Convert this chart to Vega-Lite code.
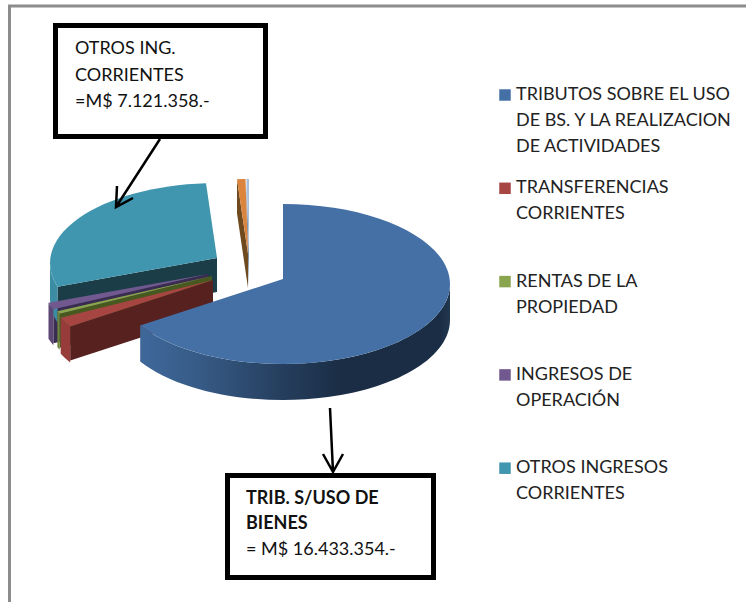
{
"$schema":"https://vega.github.io/schema/vega-lite/v6.json",
"width":746,"height":602,"padding":0,
"autosize":{"type":"fit","contains":"padding"},
"background":"#ffffff",
"config":{"view":{"stroke":null},"style":{"guide-label":{"lineHeight":26}}},
"data":{"values":[
{"slice":"TRIBUTOS SOBRE EL USO DE BS. Y LA REALIZACION DE ACTIVIDADES","value":16433354},
{"slice":"TRANSFERENCIAS CORRIENTES","value":480000},
{"slice":"RENTAS DE LA PROPIEDAD","value":140000},
{"slice":"INGRESOS DE OPERACIÓN","value":340000},
{"slice":"OTROS INGRESOS CORRIENTES","value":7121358},
{"slice":"SIN RÓTULO 1","value":200000},
{"slice":"SIN RÓTULO 2","value":60000}
]},
"transform":[
{"window":[{"op":"row_number","as":"idx"}]},
{"stack":"value","groupby":[],"as":["v0","v1"]},
{"joinaggregate":[{"op":"sum","field":"value","as":"total"}]},
{"calculate":"2*PI*datum.v0/datum.total","as":"a0"},
{"calculate":"2*PI*datum.v1/datum.total","as":"a1"},
{"calculate":"[0,-70,-71,-75,-66,-35,-34][datum.idx-1]","as":"cx"},
{"calculate":"[0,1,-3,-5,-21,-25,-25][datum.idx-1]","as":"cy"},
{"calculate":"datum.cy-5","as":"ay"},
{"calculate":"round(10*(datum.cx+167*sin(datum.a0)))/10","as":"x0"},
{"calculate":"round(10*(datum.cy-80*cos(datum.a0)))/10","as":"y0"},
{"calculate":"round(10*(datum.cx+167*sin(datum.a1)))/10","as":"x1"},
{"calculate":"round(10*(datum.cy-80*cos(datum.a1)))/10","as":"y1"},
{"calculate":"max(datum.a0,PI/2)","as":"rs"},
{"calculate":"min(datum.a1,3*PI/2)","as":"re"},
{"calculate":"round(10*(datum.cx+167*sin(datum.rs)))/10","as":"xs"},
{"calculate":"round(10*(datum.cy-80*cos(datum.rs)))/10","as":"ys"},
{"calculate":"round(10*(datum.cx+167*sin(datum.re)))/10","as":"xe"},
{"calculate":"round(10*(datum.cy-80*cos(datum.re)))/10","as":"ye"},
{"calculate":"'M'+datum.cx+','+datum.ay+'L'+datum.x0+','+datum.y0+'A167,80,0,'+((datum.a1-datum.a0)>PI?1:0)+',1,'+datum.x1+','+datum.y1+'Z'","as":"top"},
{"calculate":"datum.rs<datum.re?'M'+datum.xs+','+datum.ys+'A167,80,0,0,1,'+datum.xe+','+datum.ye+'L'+datum.xe+','+(datum.ye+36)+'A167,80,0,0,0,'+datum.xs+','+(datum.ys+36)+'Z':'M0,0'","as":"rim"},
{"calculate":"datum.a0>PI?'M'+datum.cx+','+datum.ay+'L'+datum.x0+','+datum.y0+'L'+datum.x0+','+(datum.y0+34)+'L'+datum.cx+','+(datum.ay+34)+'Z':'M0,0'","as":"wall"},
{"calculate":"['#1a2d45','#56211f','#47591f','#3a2b50','#1b3d48','#6e4a1e','#7f93ad'][datum.idx-1]","as":"wallColor"},
{"calculate":"['#2a4565','#973c3a','#6c843c','#5c4775','#3c8ca3','#a8662f','#9fb3cc'][datum.idx-1]","as":"rimColor"}
],
"layer":[
{"data":{"values":[{}]},"mark":{"type":"point","x":0,"y":0,"size":4,"filled":false,"opacity":1,"stroke":"#8c8c8c","strokeWidth":3,"shape":"M9.5,602L9.5,4L746,4"},"encoding":{}},
{"mark":{"type":"point","x":283,"y":282,"size":4,"filled":true,"opacity":1},
 "encoding":{"shape":{"field":"wall","type":"nominal","scale":null},"color":{"field":"wallColor","type":"nominal","scale":null},"order":{"field":"v0","sort":"descending"}}},
{"transform":[{"filter":"datum.idx!=1"}],"mark":{"type":"point","x":283,"y":282,"size":4,"filled":true,"opacity":1},
 "encoding":{"shape":{"field":"rim","type":"nominal","scale":null},"color":{"field":"rimColor","type":"nominal","scale":null},"order":{"field":"v0","sort":"descending"}}},
{"transform":[{"filter":"datum.idx==1"}],"mark":{"type":"point","x":283,"y":282,"size":4,"filled":true,"opacity":1,
  "color":{"gradient":"linear","x1":0,"y1":0,"x2":1,"y2":0,"stops":[{"offset":0,"color":"#3f689a"},{"offset":0.2,"color":"#365a85"},{"offset":0.45,"color":"#263f5f"},{"offset":0.65,"color":"#1a2d45"},{"offset":0.97,"color":"#1a2d45"},{"offset":1,"color":"#22384f"}]}},
 "encoding":{"shape":{"field":"rim","type":"nominal","scale":null}}},
{"mark":{"type":"point","x":283,"y":282,"size":4,"filled":true,"opacity":1},
 "encoding":{
  "shape":{"field":"top","type":"nominal","scale":null},
  "order":{"field":"v0","sort":"descending"},
  "color":{"field":"slice","type":"nominal","sort":null,
   "scale":{"domain":["TRIBUTOS SOBRE EL USO DE BS. Y LA REALIZACION DE ACTIVIDADES","TRANSFERENCIAS CORRIENTES","RENTAS DE LA PROPIEDAD","INGRESOS DE OPERACIÓN","OTROS INGRESOS CORRIENTES","SIN RÓTULO 1","SIN RÓTULO 2"],
            "range":["#4470a5","#a64542","#89a54e","#71588f","#4096ae","#db843d","#aabfe0"]},
   "legend":{"title":null,"orient":"none","legendX":496,"legendY":84,
    "values":["TRIBUTOS SOBRE EL USO DE BS. Y LA REALIZACION DE ACTIVIDADES","TRANSFERENCIAS CORRIENTES","RENTAS DE LA PROPIEDAD","INGRESOS DE OPERACIÓN","OTROS INGRESOS CORRIENTES"],
    "symbolType":"square","symbolSize":132,"symbolStrokeWidth":0,"symbolOpacity":1,
    "gridAlign":"all","rowPadding":23.3,"labelOffset":2,"labelLimit":300,
    "labelFont":"Lato","labelFontSize":18,"labelColor":"#222222",
    "labelExpr":"datum.label=='TRIBUTOS SOBRE EL USO DE BS. Y LA REALIZACION DE ACTIVIDADES'?['TRIBUTOS SOBRE EL USO','DE BS. Y LA REALIZACION','DE ACTIVIDADES']:datum.label=='TRANSFERENCIAS CORRIENTES'?['TRANSFERENCIAS','CORRIENTES']:datum.label=='RENTAS DE LA PROPIEDAD'?['RENTAS DE LA','PROPIEDAD']:datum.label=='INGRESOS DE OPERACIÓN'?[' INGRESOS DE','OPERACIÓN']:['OTROS INGRESOS','CORRIENTES']"
   }}}},
{"data":{"values":[{}]},"mark":{"type":"point","x":0,"y":0,"size":4,"filled":false,"opacity":1,"stroke":"#000000","strokeWidth":2.5,"shape":"M160,137L116,205M117,184L116,205L133,196M330,406L333,470M323,452L333,470L343,452"},"encoding":{}},
{"data":{"values":[{}]},"mark":{"type":"rect","x":55.5,"y":23.5,"x2":265.5,"y2":134.5,"fill":"#ffffff","stroke":"#000000","strokeWidth":5},"encoding":{}},
{"data":{"values":[{}]},"mark":{"type":"rect","x":227.5,"y":473.5,"x2":433.5,"y2":575.5,"fill":"#ffffff","stroke":"#000000","strokeWidth":5},"encoding":{}},
{"data":{"values":[{}]},"mark":{"type":"text","x":75,"y":52,"align":"left","baseline":"alphabetic","font":"Lato","fontSize":18,"lineHeight":26.5,"color":"#111111","text":["OTROS ING.","CORRIENTES","=M$ 7.121.358.-"]},"encoding":{}},
{"data":{"values":[{}]},"mark":{"type":"text","x":246,"y":502,"align":"left","baseline":"alphabetic","font":"Lato","fontSize":18,"lineHeight":25,"fontWeight":"bold","color":"#111111","text":["TRIB. S/USO DE","BIENES"]},"encoding":{}},
{"data":{"values":[{}]},"mark":{"type":"text","x":246,"y":553,"align":"left","baseline":"alphabetic","font":"Lato","fontSize":18,"color":"#111111","text":"= M$ 16.433.354.-"},"encoding":{}}
],
"resolve":{"scale":{"shape":"independent","color":"independent"}}
}
